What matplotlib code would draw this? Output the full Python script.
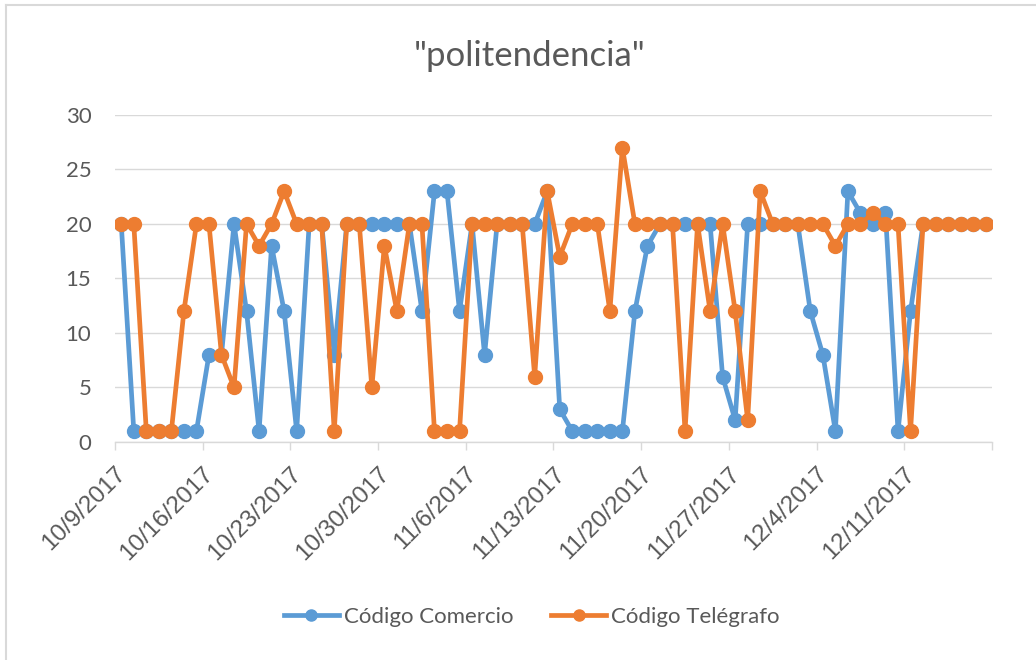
import numpy as np
import pandas as pd
import matplotlib
matplotlib.use("Agg")
import matplotlib.pyplot as plt
from matplotlib.lines import Line2D

plt.rcParams['font.family'] = ['Lato', 'DejaVu Sans']

# daily values, 10/9/2017 .. 12/17/2017
start = "2017-10-09"
n_days = 70
comercio = [20, 1, 1, 1, 1, 1, 1, 8, 8, 20,
            12, 1, 18, 12, 1, 20, 20, 8, 20, 20,
            20, 20, 20, 20, 12, 23, 23, 12, 20, 8,
            20, 20, 20, 20, 23, 3, 1, 1, 1, 1,
            1, 12, 18, 20, 20, 20, 20, 20, 6, 2,
            20, 20, 20, 20, 20, 12, 8, 1, 23, 21,
            20, 21, 1, 12, 20, 20, 20, 20, 20, 20]
telegrafo = [20, 20, 1, 1, 1, 12, 20, 20, 8, 5,
             20, 18, 20, 23, 20, 20, 20, 1, 20, 20,
             5, 18, 12, 20, 20, 1, 1, 1, 20, 20,
             20, 20, 20, 6, 23, 17, 20, 20, 20, 12,
             27, 20, 20, 20, 20, 1, 20, 12, 20, 12,
             2, 23, 20, 20, 20, 20, 20, 18, 20, 20,
             21, 20, 20, 1, 20, 20, 20, 20, 20, 20]
series_names = ["Código Comercio", "Código Telégrafo"]
title = '"politendencia"'

dates = pd.date_range(start, periods=n_days, freq="D")
blue = "#5B9BD5"
orange = "#ED7D31"
grey_txt = "#595959"
grid_c = "#D9D9D9"

fig = plt.figure(figsize=(10.36, 6.6), dpi=100)
ax = fig.add_axes([0.111, 0.3303, 0.8465, 0.4955])

# Excel places points in the middle of each day slot
x = dates + pd.Timedelta(hours=12)
for vals, c, name in zip([comercio, telegrafo], [blue, orange], series_names):
    ax.plot(x, vals, color=c, lw=3.4, marker="o", ms=10, label=name,
            solid_joinstyle="round")

ticks = pd.date_range(start, periods=11, freq="7D")
ax.set_xlim(ticks[0], ticks[-1])
ax.set_xticks(ticks)
ax.set_xticklabels([f"{d.month}/{d.day}/{d.year}" for d in ticks[:-1]] + [""],
                   rotation=45, ha="right", rotation_mode="anchor",
                   family=["Liberation Sans", "DejaVu Sans"])
ax.set_ylim(0, 30)
ax.set_yticks(np.arange(0, 31, 5))

ax.grid(axis="y", color=grid_c, lw=1)
ax.set_axisbelow(True)
for s in ["left", "right", "top"]:
    ax.spines[s].set_visible(False)
ax.spines["bottom"].set_color(grid_c)
ax.spines["bottom"].set_linewidth(1)
ax.tick_params(axis="x", colors=grid_c, length=6, width=1, labelcolor=grey_txt,
               labelsize=17.5, pad=9)
ax.tick_params(axis="y", length=0, labelcolor=grey_txt, labelsize=16, pad=17)

fig.text(0.5115, 0.915, title, ha="center", va="center", fontsize=25, color=grey_txt)

handles = [Line2D([], [], color=c, lw=3.4, marker="o", ms=8) for c in [blue, orange]]
fig.legend(handles, series_names, loc="center", bbox_to_anchor=(0.513, 0.065),
           ncol=2, frameon=False, fontsize=16, labelcolor=grey_txt,
           handlelength=2.5, columnspacing=1.7, handletextpad=0.2)

# chart border (only top and left edges visible in the crop)
fig.add_artist(plt.Line2D([0.0058, 0.0058], [0, 0.992], color=grid_c, lw=1.5))
fig.add_artist(plt.Line2D([0.0058, 1], [0.992, 0.992], color=grid_c, lw=1.5))

fig.savefig("out.png", dpi=100)
